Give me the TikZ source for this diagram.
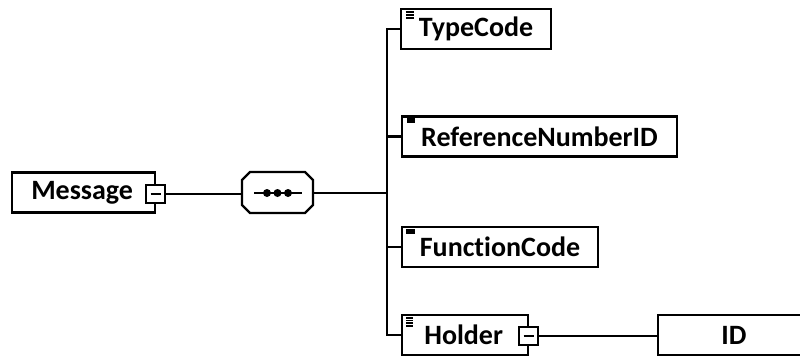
\documentclass[tikz,border=0pt]{standalone}
\usepackage{fontspec}
\setmainfont[Ligatures=CommonOff]{Carlito}
\usetikzlibrary{shapes.geometric,calc}
\begin{document}
\begin{tikzpicture}[x=0.75pt,y=-0.75pt,
  elem/.style={draw,line width=1.6pt,fill=white,minimum height=30pt,inner sep=0pt,font=\fontsize{21}{25}\selectfont\bfseries},
  minusbox/.style={draw,line width=1.4pt,fill=white,minimum width=14pt,minimum height=13.5pt,inner sep=0pt},
  conn/.style={line width=1.6pt},
  icon/.style={line width=1.3pt}]
\useasboundingbox (0,0) rectangle (800,357);
\clip (0,0) rectangle (800,357);
\fill[white] (0,0) rectangle (800,357);
% Message
\node[elem,minimum width=107pt] (msg) at (83.5,192.5) {\hspace*{-2pt}Message};
\node[minusbox] (msgm) at (155.5,194) {};
\draw[line width=1.3pt] ($(msgm.center)+(-5,0)$) -- ($(msgm.center)+(5,0)$);
% sequence compositor
\draw[line width=1.6pt,fill=white] (242,180) -- (250,172) -- (305,172) -- (313,180) -- (313,205) -- (305,213) -- (250,213) -- (242,205) -- cycle;
\node[minimum width=53pt,minimum height=30pt,inner sep=0pt] (seq) at (277.5,193) {};
\draw[line width=1.5pt] (254,193) -- (302,193);
\foreach \d in {267,277.5,288} \fill (\d,193) circle (4);
% children
\node[elem,minimum width=112.5pt] (tc) at (476,29) {TypeCode};
\node[elem,minimum width=206pt] (rn) at (539.5,136.5) {ReferenceNumberID};
\node[elem,minimum width=147pt] (fc) at (500,247) {FunctionCode};
\node[elem,minimum width=94.5pt] (ho) at (465,335) {\hspace*{-2pt}Holder};
\node[minusbox] (hom) at (528.5,336) {};
\draw[line width=1.3pt] ($(hom.center)+(-5,0)$) -- ($(hom.center)+(5,0)$);
\node[elem,minimum width=114pt] (id) at (734,335) {ID};
% icons
\foreach \k in {0,3,6} \draw[icon] ($(tc.north west)+(6,4+\k)$) -- ++(8,0);
\foreach \n in {rn,fc} {
  \fill ($(\n.north west)+(5.5,3)$) rectangle ++(8.5,5);
}
\foreach \k in {0,2.6,5.2,7.8} \fill ($(ho.north west)+(5.5,3)+(0,\k)$) rectangle ++(7,1.8);
% connectors
\coordinate (bus) at (387,193);
\draw[conn] (msgm.east) -- (msgm.east -| seq.west);
\draw[conn] (seq.east) -- (bus);
\draw[conn] (tc.west) -| (bus) |- (ho.west);
\draw[conn] (rn.west) -- (rn.west -| bus);
\draw[conn] (fc.west) -- (fc.west -| bus);
\draw[conn] (hom.east) -- (hom.east -| id.west);
\end{tikzpicture}
\end{document}
